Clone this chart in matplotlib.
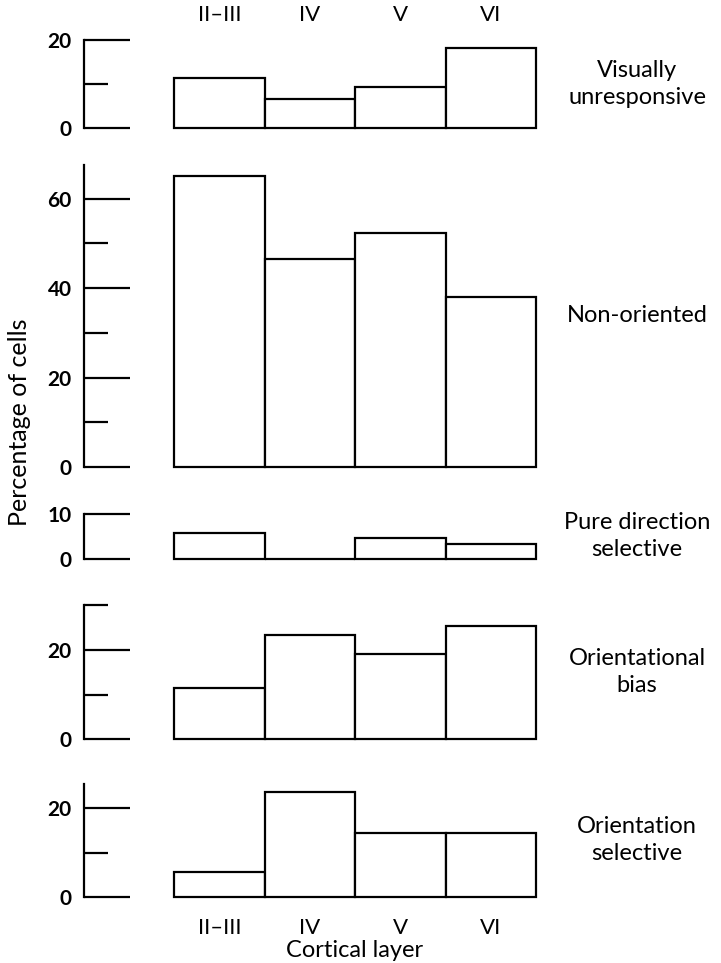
import matplotlib.pyplot as plt
from matplotlib.ticker import FixedLocator

plt.rcParams['font.family'] = ['Lato', 'DejaVu Sans']

layers = ["II\u2013III", "IV", "V", "VI"]

visually_unresponsive = [11.5, 6.6, 9.3, 18.3]
non_oriented = [65.1, 46.4, 52.2, 37.9]
pure_direction = [5.7, 0.0, 4.6, 3.3]
orientational_bias = [11.5, 23.3, 19.0, 25.3]
orientation_selective = [5.5, 23.7, 14.4, 14.4]

panel_names = ["Visually\nunresponsive", "Non-oriented", "Pure direction\nselective",
               "Orientational\nbias", "Orientation\nselective"]
panel_values = [visually_unresponsive, non_oriented, pure_direction,
                orientational_bias, orientation_selective]
panel_ylim = [20, 67.5, 10, 30, 25.5]
panel_major = [[0, 20], [0, 20, 40, 60], [0, 10], [0, 20], [0, 20]]
panel_minor = [[10], [10, 30, 50], [], [10, 30], [10]]

# pixel layout (top of axes, bottom of axes)
W, H = 721, 963
panel_px = [(40, 128.3), (165, 467), (513.7, 559), (605, 739.3), (784, 896.7)]
left_px, right_px = 84, 536

fig = plt.figure(figsize=(W / 100, H / 100), dpi=100)

axes = []
for i, (top, bot) in enumerate(panel_px):
    ax = fig.add_axes([left_px / W, 1 - bot / H, (right_px - left_px) / W, (bot - top) / H])
    vals = panel_values[i]
    ax.bar(range(len(layers)), vals, width=1.0, facecolor="white", edgecolor="black",
           linewidth=1.6, clip_on=False)
    ax.set_xlim(-1.5, 3.5)
    ax.set_ylim(0, panel_ylim[i])
    for s in ["top", "right", "bottom"]:
        ax.spines[s].set_visible(False)
    ax.spines["left"].set_linewidth(1.6)
    ax.yaxis.set_major_locator(FixedLocator(panel_major[i]))
    ax.yaxis.set_minor_locator(FixedLocator(panel_minor[i]))
    ax.tick_params(axis="y", which="major", direction="in", length=33, width=1.6,
                   pad=9, labelsize=15)
    ax.tick_params(axis="y", which="minor", direction="in", length=17, width=1.6)
    for lab in ax.get_yticklabels():
        lab.set_fontweight("bold")
    ax.set_xticks([])
    cy = (top + bot) / 2
    ax.text(637 / W, 1 - cy / H, panel_names[i], transform=fig.transFigure,
            ha="center", va="center", fontsize=17, linespacing=1.35)
    axes.append(ax)

axes[0].set_xticks(range(len(layers)), layers)
axes[0].tick_params(axis="x", top=False, bottom=False, labeltop=True, labelbottom=False,
                    pad=7, labelsize=16)
axes[-1].set_xticks(range(len(layers)), layers)
axes[-1].tick_params(axis="x", bottom=False, pad=12, labelsize=16)

fig.text(355 / W, 1 - 950 / H, "Cortical layer", ha="center", va="center", fontsize=17)
fig.text(20 / W, 1 - 422 / H, "Percentage of cells", rotation=90, ha="center",
         va="center", fontsize=18)

fig.savefig("out.png", dpi=100)
